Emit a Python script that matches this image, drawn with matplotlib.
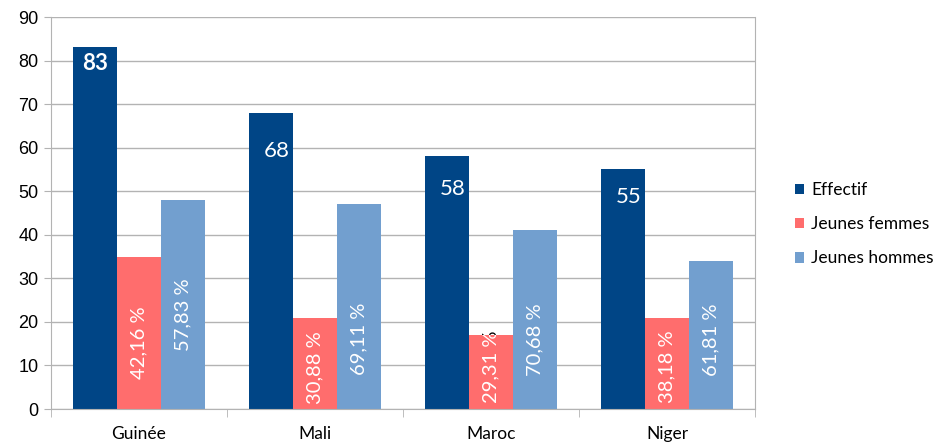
import matplotlib
matplotlib.use('Agg')
import matplotlib.pyplot as plt
import numpy as np
from matplotlib.transforms import Bbox, TransformedBbox

countries = ['Guinée', 'Mali', 'Maroc', 'Niger']
effectif = [83, 68, 58, 55]
femmes = [35, 21, 17, 21]
hommes = [48, 47, 41, 34]
femmes_pct = ['42,16 %', '30,88 %', '29,31 %', '38,18 %']
hommes_pct = ['57,83 %', '69,11 %', '70,68 %', '61,81 %']

C_EFF = '#004586'
C_FEM = '#ff6d6d'
C_HOM = '#729fcf'
GRID = '#b3b3b3'
LATO = ['Lato', 'DejaVu Sans']

fig = plt.figure(figsize=(9.41, 4.44), dpi=100)
ax = fig.add_axes([51 / 941, 35 / 444, 704 / 941, 392 / 444])

x = np.arange(len(countries))
w = 0.25
b_eff = ax.bar(x - w, effectif, w, color=C_EFF, label='Effectif', zorder=2)
b_fem = ax.bar(x, femmes, w, color=C_FEM, label='Jeunes femmes', zorder=2)
b_hom = ax.bar(x + w, hommes, w, color=C_HOM, label='Jeunes hommes', zorder=2)

ax.set_xlim(-0.5, 3.5)
ax.set_ylim(0, 90)
ax.set_yticks(range(0, 91, 10))
ax.yaxis.grid(True, color=GRID, lw=1, zorder=0)
ax.set_axisbelow(True)
ax.set_xticks(x)
ax.set_xticklabels(countries, family=LATO, fontsize=12.5)
ax.set_xticks(np.arange(-0.5, 4, 1), minor=True)
ax.tick_params(axis='x', which='major', length=0, pad=12)
ax.tick_params(axis='x', which='minor', length=6, color=GRID)
ax.tick_params(axis='y', length=5, color=GRID, labelsize=13, pad=4)
for lab in ax.get_yticklabels():
    lab.set_family(['Liberation Sans', 'DejaVu Sans'])
for s in ['left', 'right', 'bottom']:
    ax.spines[s].set_color(GRID)
ax.spines['top'].set_visible(False)

# effectif labels near the top of the bars
eff_drop = [3.6, 8.8, 7.6, 6.3]
for i, (r, v) in enumerate(zip(b_eff, effectif)):
    cx = r.get_x() + r.get_width() / 2 + (0 if i == 0 else 0.035)
    ax.text(cx, v - eff_drop[i], str(v), color='white', ha='center',
            va='center', family=LATO, fontsize=16,
            fontweight='bold' if i == 0 else 'normal', zorder=3)


def pct_label(rect, yc, txt):
    # white inside the bar, black where the text sticks out above it
    cx = rect.get_x() + rect.get_width() / 2
    x0, x1 = rect.get_x(), rect.get_x() + rect.get_width()
    top = rect.get_height()
    parts = [('white', Bbox([[x0, 0], [x1, top]])),
             ('black', Bbox([[x0 - 0.1, top], [x1 + 0.1, 200]]))]
    for color, box in parts:
        t = ax.text(cx, yc, txt, color=color, rotation=90, ha='center',
                    va='center', family=LATO, fontsize=14.5, zorder=3,
                    clip_on=True)
        t.set_clip_box(TransformedBbox(box, ax.transData))


for rf, rh, vf, tf, th in zip(b_fem, b_hom, femmes, femmes_pct, hommes_pct):
    yc = max(9.6, vf / 2 - 2.3)
    pct_label(rf, yc, tf)
    pct_label(rh, yc + 6.4, th)

fig.legend(loc='center left', bbox_to_anchor=(779 / 941, 0.495),
           frameon=False, prop={'family': LATO, 'size': 12.5},
           handlelength=0.55, handleheight=0.55, handletextpad=0.4,
           labelspacing=1.05)

fig.savefig('out.png', dpi=100)
